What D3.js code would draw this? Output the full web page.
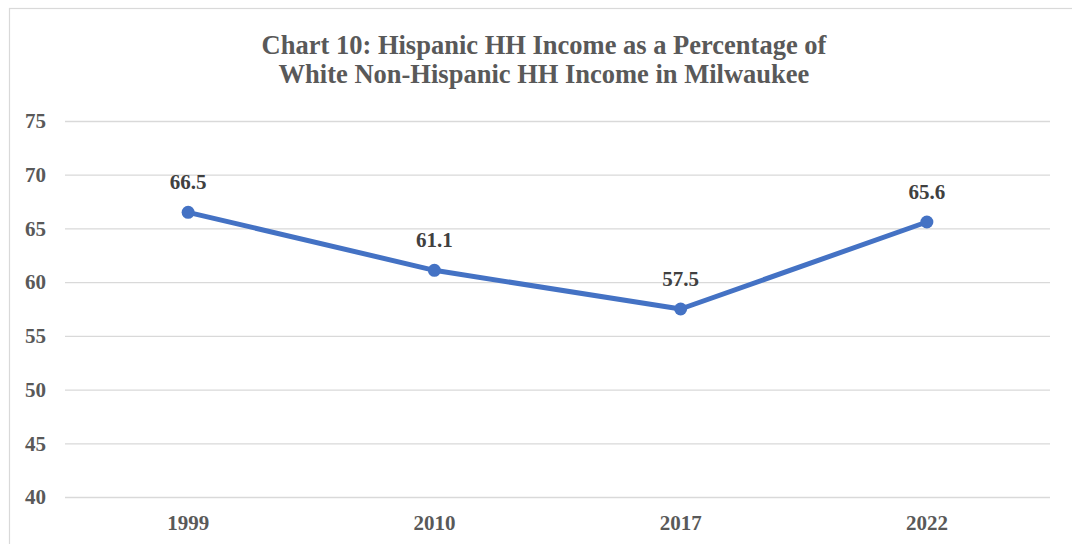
<!DOCTYPE html>
<html>
<head>
<meta charset="utf-8">
<script src="https://cdn.jsdelivr.net/npm/d3@7"></script>
<style>
  html, body { margin: 0; padding: 0; background: #fff; }
  svg { display: block; }
</style>
</head>
<body>
<svg id="chart" width="1072" height="544"></svg>
<script>
// Hispanic household income as a percentage of white non-Hispanic income, Milwaukee
const years = ["1999", "2010", "2017", "2022"];
const pctValues = [66.5, 61.1, 57.5, 65.6];
const yTicks = [40, 45, 50, 55, 60, 65, 70, 75];
const titleLines = [
  "Chart 10: Hispanic HH Income as a Percentage of",
  "White Non-Hispanic HH Income in Milwaukee"
];

const W = 1072, H = 544;
const svg = d3.select("#chart");
const serif = "'Liberation Serif', 'Times New Roman', serif";

// chart frame
svg.append("rect")
  .attr("x", 9.5).attr("y", 8.5)
  .attr("width", W + 20).attr("height", H + 20)
  .attr("fill", "#fff").attr("stroke", "#d9d9d9").attr("stroke-width", 1.2);

const plot = { left: 65, right: 1050, top: 121, bottom: 497 };

const x = d3.scaleBand().domain(years).range([plot.left, plot.right]);
const y = d3.scaleLinear().domain([40, 75]).range([plot.bottom, plot.top]);

// title
svg.append("text")
  .attr("x", 544).attr("text-anchor", "middle")
  .attr("font-family", serif).attr("font-weight", "bold")
  .attr("font-size", 26.5).attr("fill", "#595959")
  .selectAll("tspan").data(titleLines).join("tspan")
  .attr("x", 544).attr("y", (d, i) => 54 + i * 29)
  .text(d => d);

// horizontal gridlines + y labels
const yAxis = d3.axisLeft(y).tickValues(yTicks).tickSize(-(plot.right - plot.left)).tickPadding(19);
const gy = svg.append("g").attr("transform", `translate(${plot.left},0)`).call(yAxis);
gy.select(".domain").remove();
gy.selectAll(".tick line").attr("stroke", "#d9d9d9").attr("stroke-width", 1.3);
gy.selectAll(".tick text")
  .attr("font-family", serif).attr("font-weight", "bold")
  .attr("font-size", 21).attr("fill", "#595959");

// x labels
const xAxis = d3.axisBottom(x).tickSize(0).tickPadding(18);
const gx = svg.append("g").attr("transform", `translate(0,${plot.bottom})`).call(xAxis);
gx.select(".domain").remove();
gx.selectAll(".tick text")
  .attr("font-family", serif).attr("font-weight", "bold")
  .attr("font-size", 21).attr("fill", "#595959");

const pts = years.map((yr, i) => ({ yr, v: pctValues[i] }));
const cx = d => x(d.yr) + x.bandwidth() / 2;

// series line
svg.append("path")
  .datum(pts)
  .attr("fill", "none").attr("stroke", "#4472c4")
  .attr("stroke-width", 5).attr("stroke-linejoin", "round")
  .attr("d", d3.line().x(cx).y(d => y(d.v)));

// markers
svg.selectAll("circle.pt").data(pts).join("circle")
  .attr("class", "pt")
  .attr("cx", cx).attr("cy", d => y(d.v))
  .attr("r", 6.5).attr("fill", "#4472c4");

// value labels
svg.selectAll("text.val").data(pts).join("text")
  .attr("class", "val")
  .attr("x", cx).attr("y", d => y(d.v) - 23)
  .attr("text-anchor", "middle")
  .attr("font-family", serif).attr("font-weight", "bold")
  .attr("font-size", 21).attr("fill", "#404040")
  .text(d => d.v.toFixed(1));
</script>
</body>
</html>
